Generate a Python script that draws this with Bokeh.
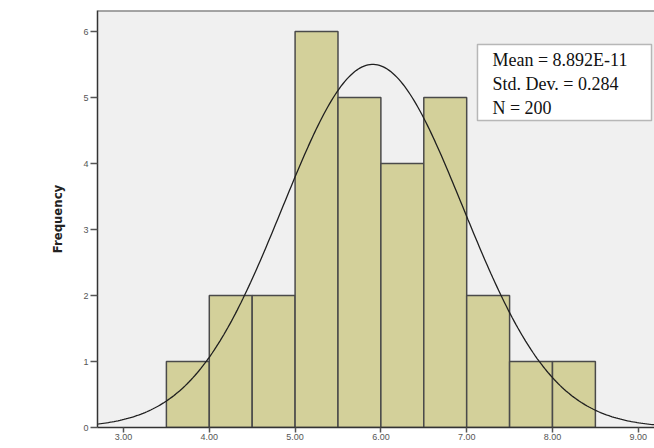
import numpy as np
from bokeh.plotting import figure
from bokeh.models import Label, Span, FixedTicker, NumeralTickFormatter, BoxAnnotation
from bokeh.embed import file_html
from bokeh.resources import INLINE

# histogram bins (left edges, right edges) and counts
bin_left = [3.5, 4.0, 4.5, 5.0, 5.5, 6.0, 6.5, 7.0, 7.5, 8.0]
bin_right = [4.0, 4.5, 5.0, 5.5, 6.0, 6.5, 7.0, 7.5, 8.0, 8.5]
counts = [1, 2, 2, 6, 5, 4, 5, 2, 1, 1]
x_ticks = [3, 4, 5, 6, 7, 8, 9]
y_ticks = [0, 1, 2, 3, 4, 5, 6]
stats_lines = ["Mean = 8.892E-11", "Std. Dev. = 0.284", "N = 200"]

# normal curve fitted to the histogram data
mids = (np.array(bin_left) + np.array(bin_right)) / 2
c = np.array(counts)
n = c.sum()
mu = (mids * c).sum() / n
sd = np.sqrt(((mids - mu) ** 2 * c).sum() / n)
bw = 0.5
xs = np.linspace(2.6, 9.3, 300)
ys = n * bw / (sd * np.sqrt(2 * np.pi)) * np.exp(-0.5 * ((xs - mu) / sd) ** 2)

X0, X1, Y0, Y1 = 2.697, 9.189, 0, 6.32

p = figure(width=654, height=448, output_backend="svg", toolbar_location=None,
           x_range=(X0, X1), y_range=(Y0, Y1),
           min_border_left=97, min_border_top=10, min_border_right=0, min_border_bottom=21)
p.background_fill_color = "#F0F0F0"
p.border_fill_color = "white"
p.outline_line_color = None
p.grid.visible = False

p.quad(left=bin_left, right=bin_right, bottom=0, top=counts,
       fill_color="#D3D09A", line_color="#4A4A4A", line_width=1.5)
p.line(xs, ys, line_color="#202020", line_width=1.3)

p.add_layout(Span(location=Y1, dimension="width", line_color="#555555", line_width=2))

p.xaxis.ticker = FixedTicker(ticks=x_ticks)
p.xaxis.formatter = NumeralTickFormatter(format="0.00")
p.yaxis.ticker = FixedTicker(ticks=y_ticks)
for ax in (p.xaxis, p.yaxis):
    ax.minor_tick_line_color = None
    ax.major_tick_in = 0
    ax.major_tick_line_color = "#555555"
    ax.major_tick_line_width = 1.5
    ax.axis_line_color = "#333333"
    ax.axis_line_width = 1.5
    ax.major_label_text_font = "Liberation Sans"
    ax.major_label_text_font_size = "9px"
    ax.major_label_text_color = "#555555"
p.xaxis.major_tick_out = 5
p.xaxis.major_label_standoff = 1
p.yaxis.major_tick_out = 7
p.yaxis.major_label_standoff = 2
p.yaxis.axis_label = "Frequency"
p.yaxis.axis_label_text_font = "DejaVu Sans Condensed"
p.yaxis.axis_label_text_font_style = "bold"
p.yaxis.axis_label_text_font_size = "13px"
p.yaxis.axis_label_text_color = "#222222"
p.yaxis.axis_label_standoff = 15

p.add_layout(BoxAnnotation(left=7.126, right=9.154, top=5.803, bottom=4.652,
                           fill_color="white", fill_alpha=1.0,
                           line_color="#222222", line_width=1.5))
p.add_layout(Label(x=7.30, y=5.727, text="\n".join(stats_lines), text_align="left",
                   text_baseline="top", text_font="Liberation Serif",
                   text_font_size="18px", text_color="#111111", text_line_height=1.2))

open("out.html", "w").write(file_html(p, INLINE))
